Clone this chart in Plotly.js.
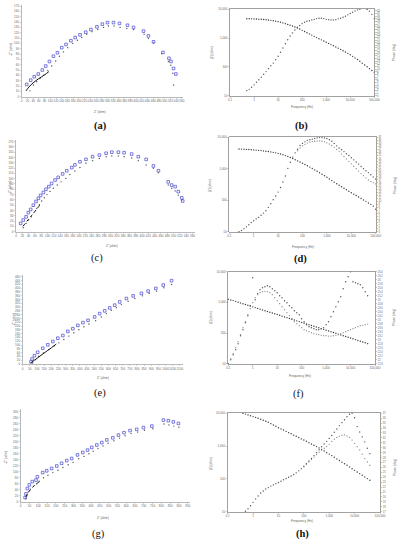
<!DOCTYPE html>
<html><head><meta charset="utf-8">
<script src="https://cdn.plot.ly/plotly-3.0.1.min.js"></script>
<style>html,body{margin:0;padding:0;background:#fff}#chart{width:399px;height:550px}</style>
</head><body><div id="chart"></div>
<script>
// ---------- Nyquist data (a) ----------
const A_blue_x = [17.5,31.5,44,58,72,84,97,111,125,140,155,172,187,204,224,242,263,282,300,321,342,370,391,426,443,461,494,515,522,531,539];
const A_blue_y = [23,31,37.5,42.5,50,57.5,66,76,82.5,92,98,105,111,116,121,126,131,136,139,139,137.5,134,130,123,114,103,83,72,66,53,42.5];
const A_dark_x = [29,41,52.5,64,78,91,105,119,132,146,161,178.5,195,210,227.5,246,266,286,303,323,344,367.5,391,428,443,461,490,513,521.5,528.5,531];
const A_dark_y = [11,22,28,34,41,49,57.5,67,76,84,92,100,106,111,117,122,126,130,132.5,132.5,130,128,126,117,109,101,81,66,59,44,22];
const A_line_x = [15,25,40,60,80,95];
const A_line_y = [11,18,26,34,41,47];
// ---------- Nyquist data (c) ----------
const C_blue_x = [14.8,23,32,39,46.5,55,63.5,71,78,87,95,104,113,124,134,148,161,177,187,203,222,243,264.5,286,304,325,343,367,388,413,436,452,483,494,505,515,526,529];
const C_blue_y = [15.7,22,28,36,42,50,57,63,68.5,74,80,85,91,97.5,102.5,109,115,121,126,132,136.5,141.5,144.5,148,150,150,149,146.5,141.5,136.5,124,115,94,88,85,75.5,64,58];
const C_dark_x = [23,32,40,49,57,65.6,74,81.5,90,98,108,118.5,131,143,158,171,187,203,222,243,264.5,286,304,325,343,367,388,413,436,452,483,494,505,515,526];
const C_dark_y = [7.5,15.7,22,28,36,44,51,58,64,70,76,82,88,94,100.6,108,114.5,121,129,134,138,141.5,143,143,141.5,139,134,126,119.5,111,88,82,77,69,60];
const C_line_x = [22,35,50,65,75];
const C_line_y = [10,20,31,42,50];
// ---------- Nyquist data (e) ----------
const E_blue_x = [58.5,65.6,82,105,140.5,175.6,211,246,281,316,351,386,421.5,457,503.5,538.6,574,609,644,679,726,773,831,878,932,983.6,1042];
const E_blue_y = [12,26.5,44,62,83,101,118.6,136,150,172,186,203.5,218,230,248,265.5,280,295.6,310,327,345,359,372,384,398,416,439];
const E_dark_x = [70,89,112,145,183,218,253,288,323,358,393,428.6,464,510.5,550,585.5,620.6,656,691,738,785,839,885,937,988,1042];
const E_dark_y = [5,23,41,58,76,94,111.5,129,147,164.6,180.5,196.5,210.6,228,248,265.5,283,297,313,331,345,359,372,384,402,419];
const E_line_x = [55,100,150,200,235];
const E_line_y = [5,30,58,85,105];
// ---------- Nyquist data (g) ----------
const G_blue_x = [25,30,38,49,66,87,95,125,148,176,205,233,262,290,323,353,380,404,433,461,490,524,556,588,622,660,698,746,812,840,868,897];
const G_blue_y = [14,26,44,56,67,72,83,97,103,111,119,128,137,144,156,164,172,181,189,197,206,213,222,230,237,241,247,252,272,270,266,261];
const G_dark_x = [30,35,42,55,72,90,105,130,155,183,212,240,270,298,330,360,388,412,440,468,497,530,562,594,628,665,704,752,815,843,871,900];
const G_dark_y = [10,20,32,42,52,60,68,80,88,97,105,114,123,131,143,151,160,168,177,186,195,203,212,220,227,232,238,243,259,256,252,248];
const G_line_x = [28,40,55,75,95,110];
const G_line_y = [15,28,40,52,62,68];

// ---------- Bode data (b) ----------
const B_freq = [0.5,0.63,0.79,1,1.26,1.58,2,2.51,3.16,3.98,5.01,6.31,7.94,10,12.6,15.8,20,25.1,31.6,39.8,50.1,63.1,79.4,100,126,158,200,251,316,398,501,631,794,1000,1259,1585,1995,2512,3162,3981,5012,6310,7943,10000,12589,15849,19953,25119,31623,39811,50119,63096,79433,100000];
const B_zmod = [4700,4680,4660,4650,4600,4550,4500,4420,4360,4250,4130,4000,3870,3720,3550,3370,3170,2990,2820,2620,2430,2250,2070,1860,1690,1540,1400,1270,1150,1040,950,870,790,720,655,595,540,490,447,405,365,330,295,263,232,205,180,157,135,117,101,87,75,65];
const B_phase = [1.9,2.4,3.2,4.1,5.1,6.0,7.0,8.1,9.1,10.2,11.3,12.3,13.6,14.9,16.4,18.0,19.6,21.1,22.5,23.7,24.8,25.8,26.5,27.2,27.7,28.1,28.3,28.6,28.8,29.1,29.2,29.2,29.1,28.8,28.7,28.6,28.6,28.7,29.0,29.2,29.6,30.0,30.5,31.0,31.5,32.0,32.4,32.6,32.8,32.8,32.5,31.9,30.7,29.1];
// ---------- Bode data (d) ----------
const D_freq = [0.251,0.316,0.398,0.501,0.631,0.794,1,1.26,1.58,2,2.51,3.16,3.98,5.01,6.31,7.94,10,12.6,15.8,20,25.1,31.6,39.8,50.1,63.1,79.4,100,126,158,200,251,316,398,501,631,794,1000,1259,1585,1995,2512,3162,3981,5012,6310,7943,10000,12589,15849,19953,25119,31623,39811,50119,63096,79433,100000];
const D_zmod = [4270,4220,4180,4130,4080,4030,3980,3920,3850,3780,3700,3620,3530,3430,3330,3210,3090,2940,2790,2620,2460,2290,2110,1940,1780,1640,1500,1370,1250,1130,1020,920,830,745,670,600,535,475,420,375,335,300,268,240,215,193,173,156,141,127,114,102,92,82,74,65,52];
const D_phase = [0.0,0.4,1.0,1.6,2.3,3.0,3.6,4.2,4.7,5.4,6.1,6.9,8.0,9.2,10.5,11.7,13.0,14.5,16.3,18.3,20.8,22.8,24.5,25.9,27.1,28.3,29.0,29.5,30.0,30.2,30.4,30.6,30.8,30.9,30.9,30.8,30.6,30.2,29.7,29.0,28.2,27.5,26.9,26.3,25.6,25.0,24.3,23.6,22.9,22.2,21.4,20.7,20.0,19.4,18.7,18.0,17.3];
const D_phase_fit = [26.6,27.5,28.2,28.7,29.1,29.4,29.6,29.7,29.8,29.8,29.7,29.5,29.2,28.8,28.3,27.7,27.0,26.3,25.5,24.7,23.9,23.1,22.3,21.5,20.7,19.9,19.1,18.4,17.7,17.0,16.5,16.1,15.7];
// ---------- Bode data (f) ----------
const F_freq = [0.1,0.126,0.158,0.2,0.251,0.316,0.398,0.501,0.631,0.794,1,1.26,1.58,2,2.51,3.16,3.98,5.01,6.31,7.94,10,12.6,15.8,20,25.1,31.6,39.8,50.1,63.1,79.4,100,126,158,200,251,316,398,501,631,794,1000,1259,1585,1995,2512,3162,3981,5012,6310,7943,10000,12589,15849,19953,25119,31623,39811,50119];
const F_zmod = [1270,1200,1140,1080,1010,960,905,850,805,760,715,675,635,600,565,535,505,475,450,425,400,378,355,335,317,298,282,266,250,236,222,210,198,187,176,166,157,148,139,132,124,117,110,104,98,92,87,82,77,73,69,65,61,57,54,51,48,45];
const F_phase = [21.8,22.0,22.25,22.5,22.8,23.2,23.5,23.85,24.2,24.7,26.1,25.0,25.3,25.5,25.6,25.65,25.7,25.65,25.55,25.45,25.35,25.2,25.1,24.95,24.85,24.7,24.6,24.45,24.35,24.25,24.05,23.9,23.75,23.65,23.6,23.55,23.5,23.5,23.55,23.6,23.75,23.9,24.15,24.4,24.65,24.9,25.15,25.55,25.9,26.15,26.4,25.9,25.85,25.8,25.75,25.6,25.4,25.2];
const F_phase_fit = [21.8,22.05,22.3,22.6,22.9,23.25,23.6,23.9,24.25,24.55,24.85,25.1,25.25,25.35,25.4,25.42,25.4,25.35,25.25,25.1,24.95,24.8,24.65,24.5,24.35,24.2,24.05,23.9,23.8,23.7,23.6,23.5,23.45,23.4,23.35,23.3,23.28,23.25,23.22,23.2,23.2,23.18,23.18,23.2,23.22,23.25,23.3,23.35,23.4,23.45,23.5,23.55,23.6,23.65,23.7,23.72,23.75,23.78];
// ---------- Bode data (h) ----------
const H_freq = [0.398,0.501,0.631,0.794,1,1.26,1.58,2,2.51,3.16,3.98,5.01,6.31,7.94,10,12.6,15.8,20,25.1,31.6,39.8,50.1,63.1,79.4,100,126,158,200,251,316,398,501,631,794,1000,1259,1585,1995,2512,3162,3981,5012,6310,7943,10000,12589,15849,19953,25119,31623,39811];
const H_zmod = [10000,9440,8910,8410,7940,7500,7080,6610,6170,5750,5310,4840,4420,4030,3630,3350,3090,2820,2570,2370,2160,1995,1820,1660,1530,1400,1275,1160,1060,965,880,795,710,630,570,513,457,407,363,324,289,260,232,204,182,162,145,129,115,102,91];
const H_phase = [17.1,17.6,18.2,18.9,19.6,20.2,20.8,21.2,21.6,21.9,22.2,22.45,22.7,22.95,23.2,23.5,23.75,24.0,24.25,24.55,24.9,25.3,25.75,26.25,26.75,27.3,27.8,28.4,29.0,29.6,30.2,30.75,31.3,31.9,32.5,33.15,33.8,34.5,35.1,35.7,36.3,36.8,37.0,36.1,34.3,33.2,32.2,31.2,29.9,28.8];
const H_phase_fit = [26.1,26.6,27.1,27.6,28.1,28.6,29.1,29.5,29.9,30.25,30.7,31.3,31.75,32.1,32.35,32.55,32.6,32.4,32.1,31.55,30.9,30.2,29.55,28.7,27.8,27.1,26.4];

// ---------- tick labels ----------
const FREQ_TICKS = [0.1,1,10,100,1000,10000,100000];
const FREQ_TEXT = ['0.1','1','10','100','1,000','10,000','100,000'];
const Z_TICKS = [10,100,1000,10000];
const Z_TEXT = ['10','100','1,000','10,000'];

const W = 399, H = 550;
const xd = (l, r) => [l / W, r / W];
const yd = (t, b) => [1 - b / H, 1 - t / H];
const TF = {family: 'Liberation Sans, Arial, sans-serif', size: 3, color: '#666'};

function nyqX(dom, range, dtick, anchor) {
  return {domain: dom, range: range, dtick: dtick, tick0: 0, anchor: anchor, tickangle: 0,
    showline: true, linecolor: '#a8a8a8', linewidth: 0.8, ticks: 'outside', ticklen: 1.2,
    tickcolor: '#a8a8a8', tickwidth: 0.5, tickfont: TF, showgrid: false, zeroline: false, fixedrange: true};
}
function bodeX(dom, anchor) {
  return {domain: dom, type: 'log', range: [-1, 5], tickvals: FREQ_TICKS, ticktext: FREQ_TEXT, anchor: anchor, tickangle: 0,
    showline: true, mirror: true, linecolor: '#8a8a8a', linewidth: 0.8, ticks: 'outside', ticklen: 1.2,
    tickcolor: '#8a8a8a', tickwidth: 0.5, tickfont: TF, showgrid: false, zeroline: false};
}
function bodeY(dom, anchor) {
  return {domain: dom, type: 'log', range: [1, 4], tickvals: Z_TICKS, ticktext: Z_TEXT, anchor: anchor,
    showline: true, mirror: true, linecolor: '#8a8a8a', linewidth: 0.8, ticks: 'outside', ticklen: 1.2,
    tickcolor: '#8a8a8a', tickwidth: 0.5, tickfont: TF, showgrid: false, zeroline: false};
}
function phaseY(over, anchor, range, dtick) {
  return {overlaying: over, side: 'right', anchor: anchor, range: range, dtick: dtick, tick0: range[0],
    showline: false, ticks: 'outside', ticklen: 1.2, tickcolor: '#8a8a8a', tickwidth: 0.5,
    tickfont: {family: 'Liberation Sans, Arial, sans-serif', size: 2.6, color: '#666'}, showgrid: false, zeroline: false};
}

const BLUE = {symbol: 'square-open', size: 2.6, color: '#5a5ad6', line: {width: 0.8, color: '#5a5ad6'}};
const DARK = {symbol: 'circle', size: 1.4, color: '#555'};
const ZM = {symbol: 'circle', size: 1.4, color: '#3a3a3a'};
const PH = {symbol: 'circle', size: 1.4, color: '#555'};
const PHF = {symbol: 'circle', size: 1.3, color: '#8a8a8a'};

function nyq(xa, ya, bx, by, dx, dy, lx, ly, dash) {
  return [
    {x: bx, y: by, xaxis: xa, yaxis: ya, mode: 'markers', marker: BLUE, cliponaxis: false},
    {x: dx, y: dy, xaxis: xa, yaxis: ya, mode: 'markers', marker: DARK, cliponaxis: false},
    {x: lx, y: ly, xaxis: xa, yaxis: ya, mode: 'lines', line: {color: '#111', width: 1, dash: dash, shape: 'spline'}}
  ];
}
function bode(xa, ya, yp, f, z, p) {
  return [
    {x: f, y: z, xaxis: xa, yaxis: ya, mode: 'markers', marker: ZM, cliponaxis: false},
    {x: f, y: p, xaxis: xa, yaxis: yp, mode: 'markers', marker: PH, cliponaxis: false}
  ];
}

const data = [].concat(
  nyq('x', 'y', A_blue_x, A_blue_y, A_dark_x, A_dark_y, A_line_x, A_line_y, 'solid'),
  bode('x2', 'y2', 'y3', B_freq, B_zmod, B_phase),
  nyq('x3', 'y4', C_blue_x, C_blue_y, C_dark_x, C_dark_y, C_line_x, C_line_y, 'dot'),
  bode('x4', 'y5', 'y6', D_freq, D_zmod, D_phase),
  [{x: D_freq.slice(24), y: D_phase_fit, xaxis: 'x4', yaxis: 'y6', mode: 'markers', marker: PHF, cliponaxis: false}],
  nyq('x5', 'y7', E_blue_x, E_blue_y, E_dark_x, E_dark_y, E_line_x, E_line_y, 'solid'),
  bode('x6', 'y8', 'y9', F_freq, F_zmod, F_phase),
  [{x: F_freq, y: F_phase_fit, xaxis: 'x6', yaxis: 'y9', mode: 'markers', marker: PHF, cliponaxis: false}],
  nyq('x7', 'y10', G_blue_x, G_blue_y, G_dark_x, G_dark_y, G_line_x, G_line_y, 'dot'),
  [{x: H_freq, y: H_zmod, xaxis: 'x8', yaxis: 'y11', mode: 'markers', marker: ZM, cliponaxis: false},
   {x: H_freq.slice(1), y: H_phase, xaxis: 'x8', yaxis: 'y12', mode: 'markers', marker: PH, cliponaxis: false},
   {x: H_freq.slice(24), y: H_phase_fit, xaxis: 'x8', yaxis: 'y12', mode: 'markers', marker: PHF, cliponaxis: false}]
);

function ann(text, px, py, opts) {
  return Object.assign({text: text, x: px / W, y: 1 - py / H, xref: 'paper', yref: 'paper',
    showarrow: false, xanchor: 'center', yanchor: 'middle',
    font: {family: 'Liberation Sans, Arial, sans-serif', size: 3.2, color: '#666'}}, opts || {});
}
const LBL = (t, px, py, bold) => ann(bold ? '<b>' + t + '</b>' : t, px, py,
  {font: {family: 'Liberation Serif, Times New Roman, serif', size: 10.5, color: '#111'}});

const annotations = [
  ann("Z' (ohm)", 100, 112), ann("-Z'' (ohm)", 11, 50, {textangle: -90}),
  ann('Frequency (Hz)', 302, 107), ann('|Z| (ohm)', 212, 53, {textangle: -90}), ann('Phase (deg)', 394, 53, {textangle: -90}),
  ann("Z' (ohm)", 112, 246), ann("-Z'' (ohm)", 10, 188, {textangle: -90}),
  ann('Frequency (Hz)', 303, 247), ann('|Z| (ohm)', 210, 186, {textangle: -90}), ann('Phase (deg)', 395, 186, {textangle: -90}),
  ann("Z' (ohm)", 103, 378), ann("-Z'' (ohm)", 14, 320, {textangle: -90}),
  ann('Frequency (Hz)', 300, 376), ann('|Z| (ohm)', 211, 318, {textangle: -90}), ann('Phase (deg)', 394, 318, {textangle: -90}),
  ann("Z' (ohm)", 103, 518), ann("-Z'' (ohm)", 6, 458, {textangle: -90}),
  ann('Frequency (Hz)', 302, 521), ann('|Z| (ohm)', 211, 464, {textangle: -90}), ann('Phase (deg)', 395, 468, {textangle: -90}),
  LBL('(a)', 100, 126, true), LBL('(b)', 301, 126, true),
  LBL('(c)', 97, 258, false), LBL('(d)', 300, 259, true),
  LBL('(e)', 100, 393, false), LBL('(f)', 298, 394, false),
  LBL('(g)', 98, 534, false), LBL('(h)', 302, 534, true)
];

const layout = {
  width: W, height: H, margin: {l: 0, r: 0, t: 0, b: 0}, showlegend: false,
  paper_bgcolor: '#fff', plot_bgcolor: 'rgba(0,0,0,0)',
  font: {family: 'Liberation Sans, Arial, sans-serif', size: 3, color: '#666'},
  xaxis: nyqX(xd(21.7, 182.7), [0, 563], 20, 'y'),
  yaxis: nyqX(yd(5, 96.7), [0, 172], 10, 'x'),
  xaxis2: bodeX(xd(230, 374.3), 'y2'),
  yaxis2: bodeY(yd(9.3, 95.7), 'x2'),
  yaxis3: phaseY('y2', 'x2', [0, 32.6], 1),
  xaxis3: nyqX(xd(16, 195), [0, 568], 20, 'y4'),
  yaxis4: nyqX(yd(140, 231.7), [0, 173], 10, 'x3'),
  xaxis4: bodeX(xd(229.3, 375.7), 'y5'),
  yaxis5: bodeY(yd(137.3, 231.7), 'x4'),
  yaxis6: phaseY('y5', 'x4', [0, 31], 1),
  xaxis5: nyqX(xd(22.7, 182.7), [0, 1120], 50, 'y7'),
  yaxis7: nyqX(yd(275, 364), [0, 469], 20, 'x5'),
  xaxis6: bodeX(xd(228.3, 375), 'y8'),
  yaxis8: bodeY(yd(271.7, 363.7), 'x6'),
  yaxis9: phaseY('y8', 'x6', [21.8, 26.4], 0.2),
  xaxis7: nyqX(xd(20.7, 190), [0, 963], 50, 'y10'),
  yaxis10: nyqX(yd(409.3, 501.7), [0, 308], 20, 'x7'),
  xaxis8: bodeX(xd(227.7, 380), 'y11'),
  yaxis11: bodeY(yd(413.3, 511.7), 'x8'),
  yaxis12: phaseY('y11', 'x8', [17, 37], 1),
  annotations: annotations
};

Plotly.newPlot('chart', data, layout, {staticPlot: true, displayModeBar: false});
</script>
</body></html>
